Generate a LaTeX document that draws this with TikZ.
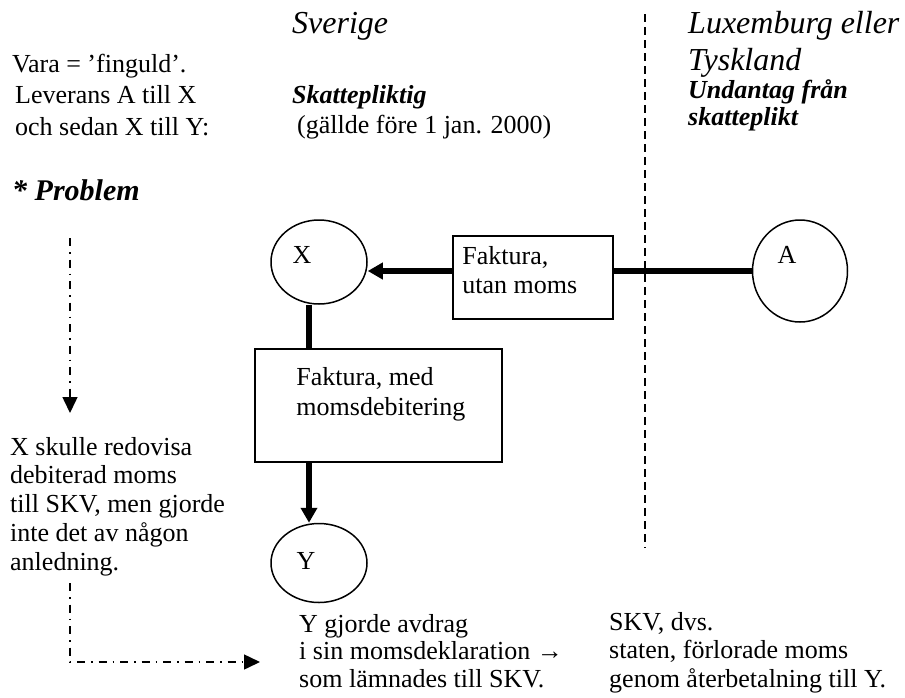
\documentclass[tikz,border=0pt]{standalone}
\usepackage{fontspec}
\setmainfont{Liberation Serif}
\usetikzlibrary{shapes.geometric,arrows.meta}

\begin{document}
\begin{tikzpicture}[x=1pt, y=-1pt]
        \tikzstyle{partyStyle} = [ellipse, draw=black, line width=1.5, inner sep=0]
        \tikzstyle{invoiceStyle} = [rectangle, draw=black, line width=1.5, inner sep=0]
        \tikzstyle{labelStyle} = [inner sep=0, font=\fontsize{26}{29}\selectfont]
        \tikzstyle{textStyle} = [anchor=base west, inner sep=0, align=left]
        \tikzstyle{thickEdge} = [draw=black, line width=5.5]
        \tikzstyle{flowEdge} = [thickEdge, -{Triangle[length=15pt,width=16pt]}]
        \tikzstyle{problemEdge} = [draw=black, line width=1.5,
            dash pattern=on 8pt off 6pt on 1.5pt off 6pt, -{Triangle[length=16pt,width=15pt]}]
        \tikzstyle{borderLine} = [draw=black, line width=1.5, dash pattern=on 8pt off 5pt]
        \useasboundingbox (0,0) rectangle (905,697);
        % texts (placed at the baseline of their last line)
        \node[textStyle, font=\fontsize{32}{37}\selectfont\itshape] (sverige) at (292,33) {Sverige};
        \node[textStyle, font=\fontsize{32}{37}\selectfont\itshape] (lux) at (688,70) {Luxemburg eller\\Tyskland};
        \node[textStyle, font=\fontsize{26}{31.5}\selectfont] (vara) at (12,135)
            {Vara = ’finguld’.\\\hspace*{3pt}Leverans A till X\\\hspace*{3pt}och sedan X till Y:};
        \node[textStyle, font=\fontsize{26}{30}\selectfont] (skatt) at (292,133)
            {\textbf{\textit{Skattepliktig}}\\\hspace*{5pt}(gällde före 1 jan. 2000)};
        \node[textStyle, font=\fontsize{26}{27}\selectfont\bfseries\itshape] (undantag) at (688,125)
            {Undantag från\\skatteplikt};
        \node[textStyle, font=\fontsize{30}{34}\selectfont\bfseries\itshape] (problem) at (12,200) {* Problem};
        \node[textStyle, font=\fontsize{26}{28.75}\selectfont] (redovisa) at (10,570)
            {X skulle redovisa\\debiterad moms\\till SKV, men gjorde\\inte det av någon\\anledning.};
        \node[textStyle, font=\fontsize{26}{27.5}\selectfont] (avdrag) at (299,687)
            {Y gjorde avdrag\\i sin momsdeklaration →\\som lämnades till SKV.};
        \node[textStyle, font=\fontsize{26}{28.5}\selectfont] (forlust) at (609,687)
            {SKV, dvs.\\staten, förlorade moms\\genom återbetalning till Y.};
        % border between the countries
        \coordinate (borderTop) at (645,14);
        \coordinate (borderBottom) at (645,548);
        \path[borderLine] (borderTop) -- (borderBottom);
        % parties and invoices
        \node[partyStyle, minimum width=96, minimum height=84,
            label={[labelStyle, xshift=-17pt, yshift=7.5pt]center:X}] (X) at (319,262) {};
        \node[partyStyle, minimum width=95, minimum height=102,
            label={[labelStyle, xshift=-13pt, yshift=16.5pt]center:A}] (A) at (800,271) {};
        \node[partyStyle, minimum width=96, minimum height=79,
            label={[labelStyle, xshift=-13pt, yshift=2.5pt]center:Y}] (Y) at (319,563) {};
        \node[invoiceStyle, minimum width=160, minimum height=83,
            label={[labelStyle, anchor=north west, align=left, xshift=10pt, yshift=-11pt]north west:Faktura,\\utan moms}]
            (utan) at (533,277.5) {};
        \node[invoiceStyle, minimum width=247, minimum height=113,
            label={[labelStyle, font=\fontsize{26}{30}\selectfont, anchor=north west, align=left, xshift=42pt, yshift=-19pt]north west:Faktura, med\\momsdebitering}]
            (med) at (378.5,405.5) {};
        % flows
        \path[thickEdge] (A.west) -- (A.west -| utan.east);
        \path[flowEdge] (utan.west |- A.west) -- (X.east |- A.west);
        \path[thickEdge] ([xshift=-10pt]X.south) -- ([xshift=-10pt]X.south |- med.north);
        \path[flowEdge] ([xshift=-10pt]X.south |- med.south) -- ([xshift=-10pt]X.south |- Y.north);
        % problem
        \coordinate (probStart) at (70,238);
        \coordinate (probEnd) at (70,413);
        \coordinate (lossStart) at (70,583);
        \coordinate (lossEnd) at (260,662);
        \path[problemEdge] (probStart) -- (probEnd);
        \path[problemEdge] (lossStart) |- (lossEnd);
    \end{tikzpicture}
\end{document}
